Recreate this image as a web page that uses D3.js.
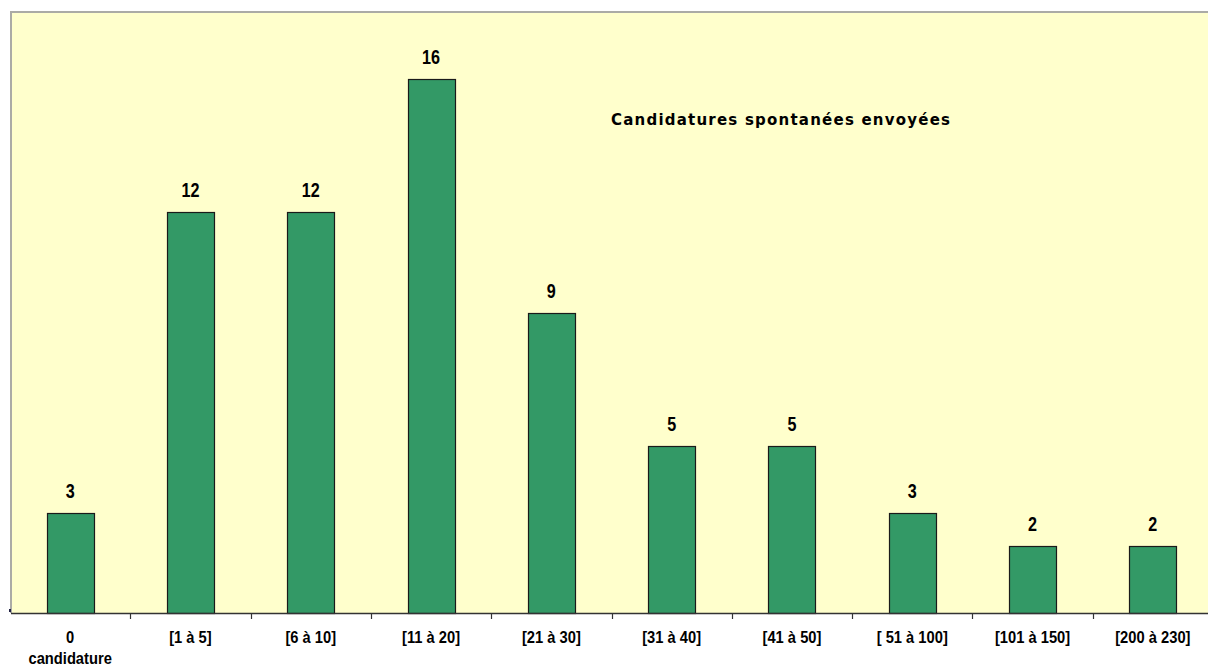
<!DOCTYPE html>
<html><head><meta charset="utf-8">
<script src="https://cdn.jsdelivr.net/npm/d3@7"></script>
<style>body{margin:0;background:#fff;}svg{display:block;}</style>
</head><body>
<svg id="c" width="1208" height="668"></svg>
<script>
const categories = ["0\ncandidature","[1 à 5]","[6 à 10]","[11 à 20]","[21 à 30]","[31 à 40]","[41 à 50]","[ 51 à 100]","[101 à 150]","[200 à 230]"];
const values = [3,12,12,16,9,5,5,3,2,2];
const seriesName = "Candidatures spontanées envoyées";

(function(){
const svg = d3.select("#c");
const pl = 11, pt = 12, pr = 1213, pb = 613;

svg.append("rect").attr("x", pl).attr("y", pt).attr("width", 1208 - pl).attr("height", pb - pt).attr("fill", "#FFFFCC");

const x = d3.scaleBand().domain(categories).range([pl - 1, pr]).padding(0);
const y = d3.scaleLinear().domain([0, 18]).range([pb, pt]);
const barW = x.bandwidth() * 0.39;

svg.append("line").attr("x1", pl - 1).attr("x2", 1208).attr("y1", pt).attr("y2", pt).attr("stroke", "#ababa6").attr("stroke-width", 2);
svg.append("line").attr("x1", pl).attr("x2", pl).attr("y1", pt).attr("y2", pb).attr("stroke", "#ababa6").attr("stroke-width", 2);

svg.selectAll("rect.bar").data(values).join("rect").attr("class", "bar")
  .attr("x", (d, i) => Math.round(x(categories[i]) + (x.bandwidth() - barW) / 2) + 0.5)
  .attr("y", d => Math.round(y(d)) + 0.5)
  .attr("width", Math.round(barW))
  .attr("height", d => pb - Math.round(y(d)))
  .attr("fill", "#339966").attr("stroke", "#1a1a1a").attr("stroke-width", 1.2);

svg.selectAll("text.val").data(values).join("text").attr("class", "val")
  .attr("transform", (d, i) => `translate(${x(categories[i]) + x.bandwidth() / 2},${y(d) - 15}) scale(0.85,1.05)`)
  .attr("text-anchor", "middle")
  .attr("font-family", "'Liberation Sans',Arial,sans-serif")
  .attr("font-weight", "bold").attr("font-size", 19).attr("fill", "#000")
  .text(d => d);

const ax = svg.append("g").attr("transform", `translate(0,${pb})`)
  .call(d3.axisBottom(x).tickSize(0).tickFormat(""));
ax.select(".domain").attr("stroke", "#333").attr("stroke-width", 1.5).attr("d", `M${pl},0.5H1208`);
const bounds = categories.map(c => x(c)).slice(1);
svg.selectAll("line.tk").data(bounds).join("line").attr("class", "tk")
  .attr("x1", d => Math.round(d) + 0.5).attr("x2", d => Math.round(d) + 0.5)
  .attr("y1", pb).attr("y2", pb + 6).attr("stroke", "#333").attr("stroke-width", 1.2);
svg.append("rect").attr("x", pl - 2).attr("y", pb - 4).attr("width", 2).attr("height", 3).attr("fill", "#224");

const lbl = svg.selectAll("text.cat").data(categories).join("text").attr("class", "cat")
  .attr("transform", d => `translate(${x(d) + x.bandwidth() / 2},643) scale(0.95,1.08)`)
  .attr("text-anchor", "middle")
  .attr("font-family", "'Liberation Sans',Arial,sans-serif")
  .attr("font-weight", "bold").attr("font-size", 15.5).attr("fill", "#000");
lbl.each(function(d) {
  const parts = d.split("\n");
  const t = d3.select(this);
  parts.forEach((p, i) => t.append("tspan").attr("x", 0).attr("dy", i ? 19.5 : 0).text(p));
});

svg.append("text").attr("x", 611).attr("y", 125)
  .attr("font-family", "Tahoma,'DejaVu Sans',Verdana,sans-serif")
  .attr("font-weight", "bold").attr("font-size", 15).attr("fill", "#000")
  .attr("textLength", 339).attr("lengthAdjust", "spacing")
  .text(seriesName);
})();
</script>
</body></html>
